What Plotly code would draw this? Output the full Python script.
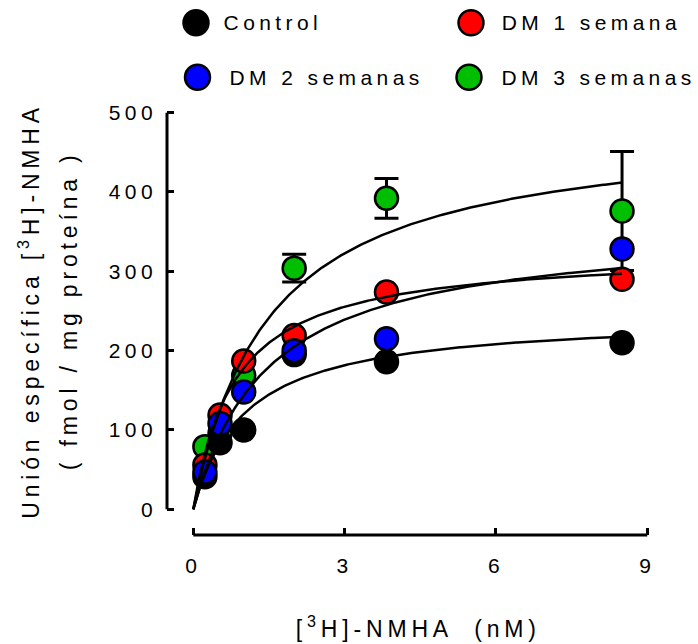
import numpy as np
import plotly.graph_objects as go

# ---------------- data ----------------
conc_nM = [0.23, 0.53, 1.0, 2.0, 3.83, 8.5]
control = [41, 84, 100, 195, 186, 210]
dm1_semana = [56, 119, 187, 219, 274, 290]
dm2_semanas = [47, 108, 148, 200, 215, 328]
dm3_semanas = [79, 96, 169, 304, 392, 376]
dm3_sem = [None, None, None, 17.5, 25, 75]

series_names = ["Control", "DM 1 semana", "DM 2 semanas", "DM 3 semanas"]
series_colors = ["#000000", "#FF0000", "#0000FF", "#00BF00"]

# one-site hyperbolic fits (Bmax, Kd) drawn as curves
fit_bmax = [244, 326, 357, 485]
fit_kd = [1.03, 0.83, 1.48, 1.51]

x_ticks = [0, 3, 6, 9]
y_ticks = [0, 100, 200, 300, 400, 500]

# ---------------- layout geometry (pixels) ----------------
W, H = 698, 644
L, R, T, B = 167, 38, 100, 109
x0_px, x_ppu = 193.3, 50.44
y0_px, y_ppu = 509.3, 0.7933
plot_w = W - L - R
plot_h = H - T - B
x_range = [(L - x0_px) / x_ppu, (W - R - x0_px) / x_ppu]
y_range = [(y0_px - (H - B)) / y_ppu, (y0_px - T) / y_ppu]


def px2paper(px, py):
    return (px - L) / plot_w, ((H - B) - py) / plot_h


FONT = "Liberation Sans, Arial, sans-serif"

fig = go.Figure()

values = {
    "Control": control,
    "DM 1 semana": dm1_semana,
    "DM 2 semanas": dm2_semanas,
    "DM 3 semanas": dm3_semanas,
}
color_of = dict(zip(series_names, series_colors))

# markers: draw order green, black, red, blue
for name in ["DM 3 semanas", "Control", "DM 1 semana", "DM 2 semanas"]:
    kw = {}
    if name == "DM 3 semanas":
        kw["error_y"] = dict(type="data", array=dm3_sem, symmetric=True,
                             color="black", thickness=3, width=12)
    fig.add_trace(go.Scatter(
        x=conc_nM, y=values[name], mode="markers", name=name, showlegend=False,
        marker=dict(size=23, color=color_of[name], line=dict(color="black", width=2.5)),
        **kw))

# fitted curves on top
xc = np.linspace(0, max(conc_nM), 300)
for name, bmax, kd in zip(series_names, fit_bmax, fit_kd):
    fig.add_trace(go.Scatter(
        x=xc, y=bmax * xc / (kd + xc), mode="lines", showlegend=False,
        line=dict(color="black", width=2.5), hoverinfo="skip"))

shapes = [
    # offset axis lines (GraphPad style)
    dict(type="line", xref="paper", yref="y", x0=0, x1=0, y0=y_ticks[0], y1=y_ticks[-1],
         line=dict(color="black", width=3)),
    dict(type="line", xref="x", yref="paper", x0=x_ticks[0], x1=x_ticks[-1], y0=0, y1=0,
         line=dict(color="black", width=3)),
]

annotations = []

# manual legend: marker centre and text centre (pixels)
legend_pos = {
    "Control": ((196, 22.7), 273),
    "DM 1 semana": ((471, 22.7), 591),
    "DM 2 semanas": ((197.5, 77.3), 326),
    "DM 3 semanas": ((469, 77.3), 598),
}
for name in series_names:
    (mx, my), tx = legend_pos[name]
    px_, py_ = px2paper(mx, my)
    shapes.append(dict(type="circle", xref="paper", yref="paper",
                       xsizemode="pixel", ysizemode="pixel",
                       xanchor=px_, yanchor=py_, x0=-12.5, x1=12.5, y0=-12.5, y1=12.5,
                       fillcolor=color_of[name], line=dict(color="black", width=2.5)))
    tpx, tpy = px2paper(tx, my)
    annotations.append(dict(xref="paper", yref="paper", x=tpx, y=tpy, xanchor="center",
                            yanchor="middle", showarrow=False, text=name,
                            font=dict(family=FONT, size=21, color="black")))

# axis titles
ax, ay = px2paper(418, 627)
annotations.append(dict(xref="paper", yref="paper", x=ax, y=ay, xanchor="center",
                        yanchor="middle", showarrow=False,
                        text="[<sup>3</sup>H]-NMHA  (nM)",
                        font=dict(family=FONT, size=23, color="black")))
for txt, cx in [("Unión específica [<sup>3</sup>H]-NMHA", 29), ("( fmol / mg proteína )", 69)]:
    qx, qy = px2paper(cx, 311)
    annotations.append(dict(xref="paper", yref="paper", x=qx, y=qy, xanchor="center",
                            yanchor="middle", showarrow=False, textangle=-90, text=txt,
                            font=dict(family=FONT, size=23, color="black")))

fig.update_layout(
    width=W, height=H,
    margin=dict(l=L, r=R, t=T, b=B, pad=0),
    paper_bgcolor="white", plot_bgcolor="white",
    shapes=shapes, annotations=annotations,
    showlegend=False,
    xaxis=dict(range=x_range, tickmode="array", tickvals=x_ticks, ticktext=[str(v) for v in x_ticks],
               showgrid=False, zeroline=False, showline=False,
               ticks="inside", ticklen=7, tickwidth=3, tickcolor="black",
               ticklabelstandoff=16,
               tickfont=dict(family=FONT, size=21, color="black")),
    yaxis=dict(range=y_range, tickmode="array", tickvals=y_ticks, ticktext=[str(v) for v in y_ticks],
               showgrid=False, zeroline=False, showline=False,
               ticks="inside", ticklen=7, tickwidth=3, tickcolor="black",
               ticklabelstandoff=9,
               tickfont=dict(family=FONT, size=21, color="black")),
)

post = ("var s=document.createElement('style');"
        "s.innerHTML='body{margin:0;padding:0;overflow:hidden;} .main-svg text{letter-spacing:0.21em;}';"
        "document.head.appendChild(s);")
fig.write_html("out.html", post_script=post, config={"displayModeBar": False})
